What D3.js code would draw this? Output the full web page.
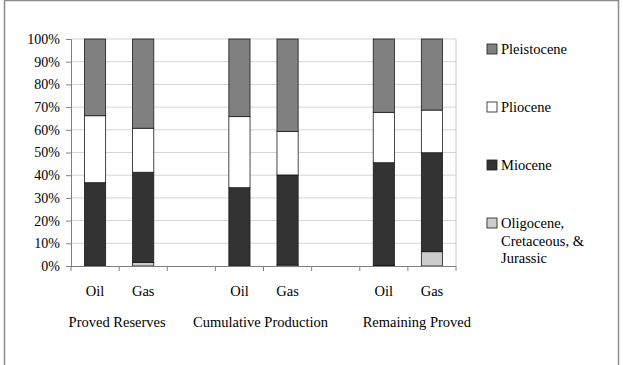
<!DOCTYPE html>
<html>
<head>
<meta charset="utf-8">
<script src="https://cdn.jsdelivr.net/npm/d3@7"></script>
<style>
body{margin:0;background:#fff;}
svg{display:block;font-family:"Liberation Serif","Times New Roman",serif;}
</style>
</head>
<body>
<svg id="chart" width="623" height="365"></svg>
<script>
// categories along the x axis (blank slots are gaps between groups)
var categories = ["Oil","Gas","","Oil","Gas","","Oil","Gas"];
var groups = ["Proved Reserves","Cumulative Production","Remaining Proved"];
var yTicks = [0,10,20,30,40,50,60,70,80,90,100];

// percent shares, bottom to top
var oligocene   = [0, 1.5, null, 0, 0.5, null, 0.3, 6.3];
var miocene     = [36.7, 39.8, null, 34.5, 39.6, null, 45.2, 43.6];
var pliocene    = [29.5, 19.4, null, 31.3, 19.2, null, 22.2, 18.8];
var pleistocene = [33.8, 39.3, null, 34.2, 40.7, null, 32.3, 31.3];

var seriesNames = ["Oligocene, Cretaceous, & Jurassic","Miocene","Pliocene","Pleistocene"];
var seriesColors = ["#cccccc","#333333","#ffffff","#808080"];

var svg = d3.select("#chart");

// outer frame
svg.append("rect").attr("x",4.5).attr("y",0.5).attr("width",614).attr("height",380)
  .attr("fill","none").attr("stroke","#8c8c8c").attr("stroke-width",1.5);

var plotL=71, plotT=39, plotR=456, plotB=266;

var x = d3.scaleBand().domain(d3.range(categories.length)).range([plotL,plotR]).paddingInner(0).paddingOuter(0);
var y = d3.scaleLinear().domain([0,100]).range([plotB,plotT]);

// gridlines
svg.append("g").selectAll("line").data(yTicks.slice(1)).enter().append("line")
  .attr("x1",plotL).attr("x2",plotR)
  .attr("y1",d=>y(d)).attr("y2",d=>y(d))
  .attr("stroke","#d4d4d4").attr("stroke-width",1);
svg.append("line").attr("x1",plotR).attr("x2",plotR).attr("y1",plotT).attr("y2",plotB)
  .attr("stroke","#c8c8c8");

// stacked bars
var rows = categories.map(function(c,i){
  return {i:i, olig:oligocene[i], mio:miocene[i], plio:pliocene[i], pleis:pleistocene[i]};
}).filter(d=>d.mio!==null);
var stack = d3.stack().keys(["olig","mio","plio","pleis"]);
var stacked = stack(rows);
var bw = x.bandwidth()*0.44;

svg.append("g").selectAll("g").data(stacked).enter().append("g")
  .attr("fill",(d,i)=>seriesColors[i])
  .selectAll("rect").data(d=>d).enter().append("rect")
    .attr("x",d=>x(d.data.i)+x.bandwidth()/2-bw/2)
    .attr("y",d=>y(d[1]))
    .attr("width",bw)
    .attr("height",d=>Math.max(0,y(d[0])-y(d[1])))
    .attr("stroke","#1a1a1a").attr("stroke-width",0.8);

// y axis
var yAxis = d3.axisLeft(y).tickValues(yTicks).tickFormat(d=>d+"%").tickSize(5).tickPadding(6);
var gy = svg.append("g").attr("transform","translate("+plotL+",0)").call(yAxis);
gy.select(".domain").attr("stroke","#808080");
gy.selectAll(".tick line").attr("stroke","#808080");
gy.selectAll("text").attr("font-family","Liberation Serif").attr("font-size",14).attr("fill","#000");

// x axis line and tick marks between categories
svg.append("line").attr("x1",plotL).attr("x2",plotR).attr("y1",plotB+0.5).attr("y2",plotB+0.5)
  .attr("stroke","#808080");
svg.append("g").selectAll("line").data(d3.range(categories.length+1)).enter().append("line")
  .attr("x1",d=>plotL+d*x.step()).attr("x2",d=>plotL+d*x.step())
  .attr("y1",plotB).attr("y2",plotB+5).attr("stroke","#808080");

// category labels
svg.append("g").selectAll("text").data(categories).enter().append("text")
  .attr("x",(d,i)=>x(i)+x.bandwidth()/2).attr("y",296)
  .attr("text-anchor","middle").attr("font-size",14.5).text(d=>d);

// group labels
var groupShift = [-2,-3,9];
svg.append("g").selectAll("text").data(groups).enter().append("text")
  .attr("x",(d,i)=>x(i*3)+x.step()+groupShift[i]).attr("y",327)
  .attr("text-anchor","middle").attr("font-size",14.5).text(d=>d);

// legend (top to bottom: Pleistocene first)
var legendItems = seriesNames.map((n,i)=>({name:n,color:seriesColors[i]})).reverse();
var lg = svg.append("g").selectAll("g").data(legendItems).enter().append("g")
  .attr("transform",(d,i)=>"translate(487,"+(44+i*58)+")");
lg.append("rect").attr("width",10).attr("height",10)
  .attr("fill",d=>d.color).attr("stroke","#1a1a1a").attr("stroke-width",0.8);
lg.each(function(d){
  var parts = d.name==="Oligocene, Cretaceous, & Jurassic" ? ["Oligocene,","Cretaceous, &","Jurassic"] : [d.name];
  var t = d3.select(this).append("text").attr("x",14).attr("y",10).attr("font-size",14.5);
  parts.forEach((p,k)=>t.append("tspan").attr("x",14).attr("dy",k===0?0:17.5).text(p));
});
</script>
</body>
</html>
